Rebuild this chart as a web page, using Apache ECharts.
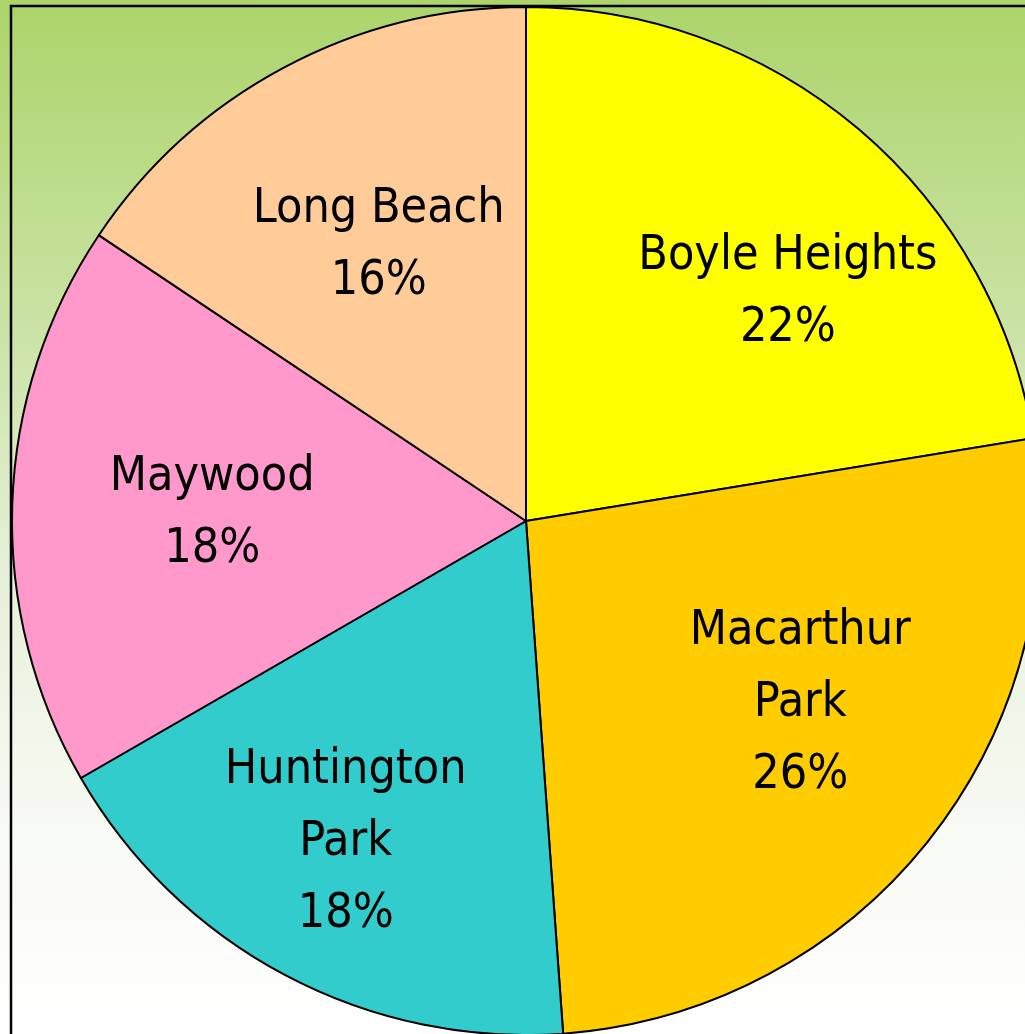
<!DOCTYPE html>
<html>
<head>
<meta charset="utf-8">
<script src="https://cdn.jsdelivr.net/npm/echarts@6/dist/echarts.min.js"></script>
<style>
html,body{margin:0;padding:0;}
#chart{width:1025px;height:1034px;background:linear-gradient(to bottom,#acd46a 0%,#c9e2a2 30%,#e6f0d8 55%,#f8faf4 80%,#ffffff 100%);}
</style>
</head>
<body>
<div id="chart"></div>
<script>
const categories = ['Boyle Heights', 'Macarthur Park', 'Huntington Park', 'Maywood', 'Long Beach'];
const labelTexts = ['Boyle Heights', 'Macarthur\nPark', 'Huntington\nPark', 'Maywood', 'Long Beach'];
const values = [22.4, 26.4, 17.8, 17.7, 15.6];
const colors = ['#FFFF00', '#FFCC00', '#33CCCC', '#FF99CC', '#FFCC99'];
// small nudges of the label blocks (best-fit placement in the original)
const labelNudge = [[43, 29], [9, -27], [-22, 23], [24, 4], [12, 23]];

const chart = echarts.init(document.getElementById('chart'));
const pieData = categories.map((c, i) => ({ name: c, value: values[i], itemStyle: { color: colors[i] } }));
const labelData = categories.map((c, i) => ({ name: labelTexts[i], value: values[i] }));

chart.setOption({
  backgroundColor: 'transparent',
  animation: false,
  graphic: [{
    type: 'rect', z: -10, silent: true,
    shape: { x: 11, y: 6, width: 1100, height: 1100 },
    style: { fill: 'none', stroke: '#000', lineWidth: 2.5 }
  }],
  series: [{
    type: 'pie',
    center: [526, 521],
    radius: [0, 514],
    startAngle: 90,
    clockwise: true,
    silent: true,
    label: { show: false },
    labelLine: { show: false },
    itemStyle: { borderColor: '#000', borderWidth: 2 },
    data: pieData
  }, {
    type: 'pie',
    center: [526, 521],
    radius: [270, 400],
    startAngle: 90,
    clockwise: true,
    silent: true,
    itemStyle: { color: 'rgba(0,0,0,0)', borderWidth: 0 },
    label: {
      show: true,
      position: 'inside',
      color: '#000',
      fontFamily: '"DejaVu Sans Condensed", "Liberation Sans", sans-serif',
      fontSize: 48,
      lineHeight: 72,
      align: 'center',
      formatter: p => p.name + '\n' + Math.round(p.percent) + '%'
    },
    labelLayout: p => ({ dx: labelNudge[p.dataIndex][0], dy: labelNudge[p.dataIndex][1] }),
    labelLine: { show: false },
    data: labelData
  }]
});
</script>
</body>
</html>
